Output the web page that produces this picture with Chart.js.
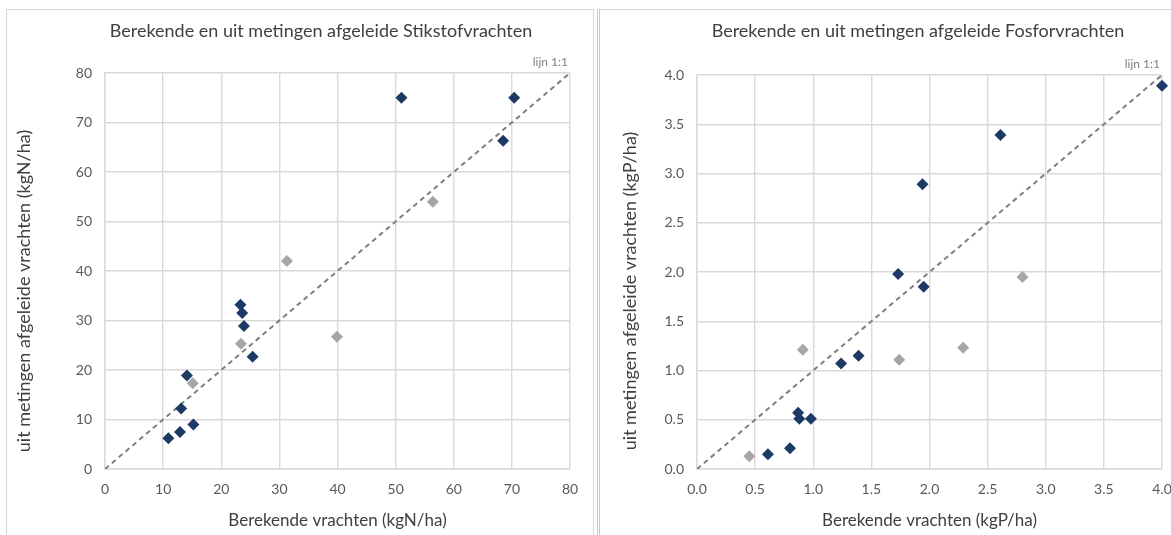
<!DOCTYPE html>
<html>
<head>
<meta charset="utf-8">
<script src="https://cdn.jsdelivr.net/npm/chart.js@4"></script>
<style>
  body { margin: 0; background: #fff; overflow: hidden; width: 1171px; height: 535px; position: relative; }
  .paneel { position: absolute; border: 1px solid #d4d4d4; box-sizing: border-box; }
  #paneelN { left: 6px; top: 9px; width: 588px; height: 540px; }
  #paneelP { left: 597px; top: 9px; width: 600px; height: 540px; border-left: 3px double #c8c8c8; }
  canvas { position: absolute; top: 0; }
  #stikstof { left: 0; }
  #fosfor { left: 598px; }
</style>
</head>
<body>
<div class="paneel" id="paneelN"></div>
<div class="paneel" id="paneelP"></div>
<canvas id="stikstof" width="595" height="535"></canvas>
<canvas id="fosfor" width="600" height="535"></canvas>
<script>
// Stikstof (kgN/ha)
const stikstofBerekendBlauw = [51.0, 70.4, 68.5, 23.3, 23.6, 23.9, 25.4, 14.1, 13.1, 15.2, 12.9, 10.9];
const stikstofGemetenBlauw  = [75.0, 75.0, 66.3, 33.2, 31.5, 28.9, 22.7, 18.9, 12.2, 9.0, 7.5, 6.2];
const stikstofBerekendGrijs = [56.4, 31.3, 39.9, 23.4, 15.1];
const stikstofGemetenGrijs  = [54.0, 42.0, 26.7, 25.3, 17.3];
const stikstofLijn = [0, 80];

// Fosfor (kgP/ha)
const fosforBerekendBlauw = [4.0, 2.61, 1.94, 1.73, 1.95, 1.24, 1.39, 0.87, 0.88, 0.98, 0.80, 0.61];
const fosforGemetenBlauw  = [3.89, 3.39, 2.89, 1.98, 1.85, 1.07, 1.15, 0.57, 0.51, 0.51, 0.21, 0.15];
const fosforBerekendGrijs = [2.80, 0.91, 2.29, 1.74, 0.45];
const fosforGemetenGrijs  = [1.95, 1.21, 1.23, 1.11, 0.13];
const fosforLijn = [0, 4];

const FONT = 'Lato, "Open Sans", sans-serif';
const BLAUW = '#1d3a66';
const GRIJS = '#a6a6a6';

function punten(xs, ys) {
  return xs.map((x, i) => ({ x: x, y: ys[i] }));
}

// titel, y-as titel en "lijn 1:1" tekst
const tekstPlugin = {
  id: 'tekst',
  afterDraw(chart, args, opts) {
    const ctx = chart.ctx;
    const xs = chart.scales.x;
    ctx.save();
    ctx.fillStyle = '#404040';
    ctx.font = '18px ' + FONT;
    ctx.textAlign = 'center';
    ctx.textBaseline = 'middle';
    ctx.fillText(opts.titel, opts.titelX, 31);

    ctx.save();
    ctx.translate(opts.yTitelX, 291);
    ctx.rotate(-Math.PI / 2);
    ctx.font = '18px ' + FONT;
    ctx.fillText(opts.yTitel, 0, 0);
    ctx.restore();

    ctx.fillStyle = '#7f7f7f';
    ctx.font = '12px ' + FONT;
    ctx.textAlign = 'right';
    ctx.fillText('lijn 1:1', xs.getPixelForValue(xs.max) - 2, chart.chartArea.top - 11);
    ctx.restore();
  }
};

function maakGrafiek(id, cfg) {
  const grid = { color: '#d9d9d9', lineWidth: 1.4, drawTicks: false };
  return new Chart(document.getElementById(id), {
    type: 'scatter',
    data: {
      datasets: [
        {
          data: punten(cfg.bx, cfg.by),
          pointStyle: 'rectRot', pointRadius: 6, pointHoverRadius: 6,
          backgroundColor: BLAUW, borderColor: BLAUW, borderWidth: 0,
          order: 1, clip: false
        },
        {
          data: punten(cfg.gx, cfg.gy),
          pointStyle: 'rectRot', pointRadius: 6, pointHoverRadius: 6,
          backgroundColor: GRIJS, borderColor: GRIJS, borderWidth: 0,
          order: 2, clip: false
        },
        {
          type: 'line',
          data: punten(cfg.lijn, cfg.lijn),
          borderColor: '#7f7f7f', borderWidth: 2, borderDash: [5, 4],
          pointRadius: 0, fill: false, order: 3
        }
      ]
    },
    options: {
      responsive: false,
      animation: false,
      events: [],
      layout: { padding: cfg.padding },
      plugins: {
        legend: { display: false },
        tooltip: { enabled: false },
        tekst: { titel: cfg.titel, titelX: cfg.titelX, yTitel: cfg.yTitel, yTitelX: cfg.yTitelX }
      },
      scales: {
        x: {
          type: 'linear', min: 0, max: cfg.max,
          grid: grid,
          border: { color: '#d9d9d9', width: 1.4 },
          afterFit: s => { s.height = 535 - 469 - cfg.padding.bottom; },
          ticks: {
            stepSize: cfg.stap, padding: 12, color: '#595959',
            font: { family: FONT, size: 14 },
            callback: v => v.toFixed(cfg.dec)
          },
          title: {
            display: true, text: cfg.xTitel, color: '#404040',
            font: { family: FONT, size: 17 }, padding: { top: 6 }
          }
        },
        y: {
          type: 'linear', min: 0, max: cfg.max,
          grid: grid,
          border: { color: '#d9d9d9', width: 1.4 },
          afterFit: s => { s.width = cfg.yBreedte; },
          ticks: {
            stepSize: cfg.stap, padding: 13, color: '#595959',
            font: { family: FONT, size: 14 },
            callback: v => v.toFixed(cfg.dec)
          }
        }
      }
    },
    plugins: [tekstPlugin]
  });
}

maakGrafiek('stikstof', {
  bx: stikstofBerekendBlauw, by: stikstofGemetenBlauw,
  gx: stikstofBerekendGrijs, gy: stikstofGemetenGrijs,
  lijn: stikstofLijn, max: 80, stap: 10, dec: 0,
  padding: { left: 12, top: 73, right: 25, bottom: 0 },
  yBreedte: 93,
  titel: 'Berekende en uit metingen afgeleide Stikstofvrachten', titelX: 321,
  xTitel: 'Berekende vrachten (kgN/ha)',
  yTitel: 'uit metingen afgeleide vrachten (kgN/ha)', yTitelX: 24
});

maakGrafiek('fosfor', {
  bx: fosforBerekendBlauw, by: fosforGemetenBlauw,
  gx: fosforBerekendGrijs, gy: fosforGemetenGrijs,
  lijn: fosforLijn, max: 4, stap: 0.5, dec: 1,
  padding: { left: 22, top: 75, right: 36, bottom: 0 },
  yBreedte: 77,
  titel: 'Berekende en uit metingen afgeleide Fosforvrachten', titelX: 320,
  xTitel: 'Berekende vrachten (kgP/ha)',
  yTitel: 'uit metingen afgeleide vrachten (kgP/ha)', yTitelX: 32
});
</script>
</body>
</html>
